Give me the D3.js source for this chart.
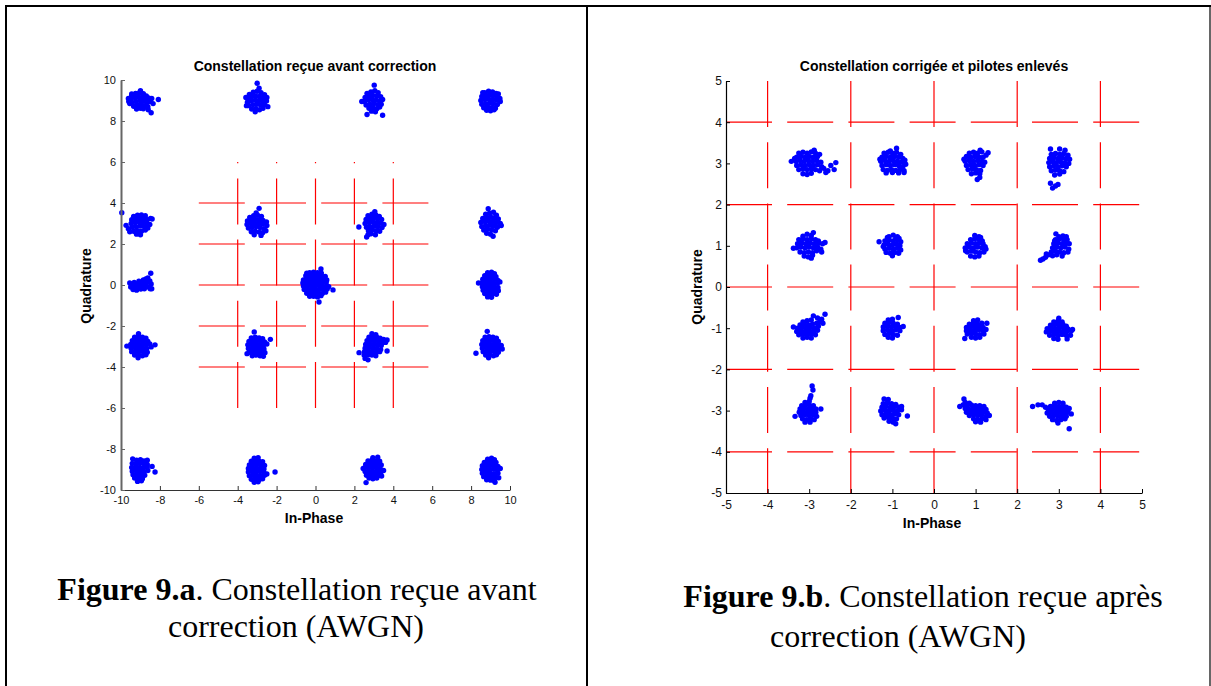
<!DOCTYPE html>
<html>
<head>
<meta charset="utf-8">
<script src="https://cdn.jsdelivr.net/npm/d3@7"></script>
<style>
  body { margin: 0; background: #fff; }
  svg { display: block; }
</style>
</head>
<body>
<svg id="fig" width="1211" height="686"></svg>
<script>
// ---- Figure text ----
const titleBefore = "Constellation reçue avant correction";
const titleAfter = "Constellation corrigée et pilotes enlevés";
const xLabel = "In-Phase";
const yLabel = "Quadrature";
const captionBefore = [["Figure 9.a", ". Constellation reçue avant"], ["", "correction (AWGN)"]];
const captionAfter = [["Figure 9.b", ". Constellation reçue après"], ["", "correction (AWGN)"]];

// ---- Axis ticks ----
const ticksBefore = [-10, -8, -6, -4, -2, 0, 2, 4, 6, 8, 10];
const ticksAfter = [-5, -4, -3, -2, -1, 0, 1, 2, 3, 4, 5];

// ---- Decision boundaries (red dashed) ----
const boundsBefore = [-4, -2, 0, 2, 4];
const boundsBeforeSpan = [-6, 6];
const boundsAfter = [-4, -2, 0, 2, 4];
const boundsAfterSpan = [-5, 5];

// ---- Received samples: symbol position + deviations (hundredths of a unit, x,y pairs) ----
const samplesBefore = [
  { s: [-9, 9], d: [-45,25,-25,35,-5,38,15,33,30,22,-50,5,-30,15,-10,18,10,15,28,8,42,12,-42,-10,-22,-5,-2,0,18,-3,35,-10,-35,-28,-15,-22,5,-20,22,-25,-20,-42,0,-38,15,-40,-55,-15,-45,32,0,48,38,-30,50,-5,58,10,65,-15,92,5,55,-60,40,-45,-62,10,-60,-5] },
  { s: [-3, 9], d: [-40,30,-20,40,0,45,20,38,38,28,-48,10,-28,20,-8,22,12,20,32,12,50,15,-50,-8,-30,0,-10,2,10,0,30,-5,48,-2,-42,-25,-22,-20,-2,-18,18,-22,38,-20,-28,-42,-8,-40,12,-45,30,-38,-10,-55,55,-30,-55,-25,0,84,10,60,-58,15] },
  { s: [3, 9], d: [-35,35,-15,42,5,48,22,38,-45,15,-25,22,-5,25,15,22,35,18,-48,-5,-28,2,-8,5,12,2,32,-2,45,5,-40,-22,-20,-18,0,-15,20,-20,38,-18,-25,-38,-5,-35,15,-40,30,-32,-12,-52,8,-55,2,75,-62,-5,-35,-68,45,-72] },
  { s: [9, 9], d: [-30,38,-10,45,10,42,28,35,-45,20,-25,25,-5,28,15,25,35,20,48,10,-50,0,-30,5,-10,8,10,5,30,2,50,-5,-45,-18,-25,-15,-5,-12,15,-15,35,-20,-35,-35,-15,-32,5,-35,25,-38,-20,-48,0,-50,18,-45,40,32,-40,38] },
  { s: [-9, 3], d: [-35,35,-15,40,5,42,25,38,-45,18,-25,22,-5,25,15,22,35,18,52,25,-48,0,-28,5,-8,8,12,5,32,0,48,-5,-42,-18,-22,-15,-2,-12,18,-15,38,-22,-35,-38,-15,-35,5,-38,25,-32,-20,-52,0,-55,-62,-25,-55,-40,-96,53,-74,-9,60,22] },
  { s: [-3, 3], d: [-38,30,-18,38,2,40,22,35,-50,12,-30,18,-10,20,10,18,30,15,48,8,-52,-5,-32,0,-12,2,8,0,28,-2,50,-10,-45,-22,-25,-18,-5,-15,15,-20,35,-25,-30,-40,-10,-38,10,-42,28,-45,-15,-55,20,-58,10,74,45,-35,-5,52] },
  { s: [3, 3], d: [-30,38,-10,45,10,42,28,35,-40,20,-20,25,0,28,20,25,40,20,-45,0,-25,5,-5,8,15,5,35,2,52,-5,-38,-18,-18,-15,2,-12,22,-15,42,-20,-28,-35,-8,-32,12,-35,30,-38,-15,-50,8,-55,-77,-17,-37,-66,-30,-55,5,58] },
  { s: [9, 3], d: [-25,45,-5,50,15,55,30,40,-40,25,-20,30,0,32,20,28,40,22,-50,5,-30,10,-10,12,10,10,30,5,50,0,-45,-15,-25,-10,-5,-8,15,-12,35,-18,55,-10,-35,-32,-15,-28,5,-30,25,-35,-20,-48,0,-52,13,-62,-12,72] },
  { s: [-9, 0], d: [-55,10,-50,-10,-42,0,-38,-22,-32,12,-28,-8,-20,-25,-18,5,-12,-12,-8,18,-2,0,2,-20,8,12,12,-5,15,25,20,-18,22,8,28,30,30,-5,35,15,38,35,42,-10,48,20,50,-18,55,5,53,57,58,-18] },
  { s: [0, 0], d: [-30,60,-10,62,10,60,30,58,-50,45,-30,45,-10,48,10,45,30,45,50,42,-62,25,-42,30,-22,28,-2,30,18,28,38,30,58,25,-65,10,-45,12,-25,12,-5,15,15,12,35,10,55,12,-62,-5,-42,-5,-22,-2,-2,-5,18,-2,38,-8,58,-5,-58,-22,-38,-22,-18,-20,2,-22,22,-20,42,-25,60,-20,-45,-40,-25,-38,-5,-40,15,-38,35,-42,52,-35,-30,-55,-10,-55,10,-58,28,-52,90,-24,18,-83,28,78,-45,58,68,-8] },
  { s: [9, 0], d: [-15,60,5,62,20,55,-30,45,-10,48,10,45,28,40,-40,28,-20,30,0,30,20,28,38,22,-45,10,-25,12,-5,12,15,10,35,8,48,15,-42,-8,-22,-5,-2,-5,18,-8,38,-12,-38,-25,-18,-22,2,-22,22,-25,40,-28,-30,-42,-10,-40,10,-42,30,-45,-15,-58,5,-60,-62,10] },
  { s: [-9, -3], d: [-10,62,-30,45,-10,48,10,45,28,40,-42,28,-22,30,-2,30,18,28,38,25,-50,10,-30,12,-10,12,10,10,30,8,48,12,-48,-8,-28,-5,-8,-5,12,-8,32,-10,55,-2,-45,-25,-25,-22,-5,-22,15,-25,35,-28,-30,-42,-10,-40,10,-45,28,-40,-12,-55,75,8,-70,2] },
  { s: [-3, -3], d: [-15,71,-30,42,-10,45,10,42,28,38,-42,25,-22,28,-2,28,18,25,38,22,-48,8,-28,10,-8,10,12,8,32,5,50,12,-45,-10,-25,-8,-5,-8,15,-10,35,-12,-40,-28,-20,-25,0,-25,20,-28,40,-30,-25,-45,-5,-42,15,-45,32,-48,68,35,-52,-35] },
  { s: [3, -3], d: [-10,62,10,58,-25,45,-5,48,15,45,32,40,50,35,68,32,-35,28,-15,30,5,28,25,25,45,20,60,20,-42,10,-22,12,-2,10,18,8,38,5,-45,-8,-25,-5,-5,-8,15,-10,35,-15,-48,-25,-28,-22,-8,-25,12,-28,30,-25,-50,-42,-30,-40,-10,-42,10,-45,-45,-58,-30,-65,-76,-30,68,-22] },
  { s: [9, -3], d: [-17,74,-28,45,-8,48,12,45,30,40,-40,28,-20,30,0,30,20,28,40,25,-45,10,-25,12,-5,12,15,10,35,8,55,5,-42,-8,-22,-5,-2,-5,18,-8,38,-10,60,-12,-38,-25,-18,-22,2,-22,22,-25,40,-28,-25,-42,-5,-40,15,-45,30,-40,-10,-55,-75,-33] },
  { s: [-9, -9], d: [-40,52,-20,45,0,48,18,42,35,45,-42,30,-22,28,-2,30,18,28,35,25,-45,10,-25,12,-5,10,15,8,35,12,-42,-8,-22,-5,-2,-8,18,-10,38,-5,-38,-25,-18,-22,2,-25,22,-28,-30,-42,-10,-40,10,-45,-15,-58,5,-55,75,-12,60,15] },
  { s: [-3, -9], d: [-15,55,5,58,-30,40,-10,42,10,40,28,38,-40,22,-20,25,0,25,20,22,38,20,-45,5,-25,8,-5,5,15,5,35,2,-45,-12,-25,-10,-5,-12,15,-10,35,-15,-40,-30,-20,-28,0,-30,20,-32,38,-28,-30,-48,-10,-45,10,-50,28,-45,-15,-62,5,-60,92,-12,50,-22] },
  { s: [3, -9], d: [-5,58,20,60,-30,42,-10,45,10,42,30,40,-42,25,-22,28,-2,28,18,25,38,22,-48,8,-28,10,-8,10,12,8,32,5,50,-5,-45,-10,-25,-8,-5,-10,15,-12,35,-15,-38,-28,-18,-25,2,-28,22,-30,40,-32,-25,-42,-5,-45,15,-42,-40,-64,-55,5] },
  { s: [9, -9], d: [-15,50,5,55,20,48,-32,35,-12,38,8,38,28,35,-42,18,-22,20,-2,20,18,18,38,15,-45,0,-25,2,-5,0,15,2,35,-2,50,5,-42,-18,-22,-15,-2,-18,18,-20,38,-18,-35,-35,-15,-32,5,-35,25,-38,42,-40,-20,-50,0,-52,20,-55,23,-62] }
];

const samplesAfter = [
  { s: [-3, 3], d: [-25,25,-15,27,-5,25,5,28,15,25,-30,15,-20,17,-10,15,0,17,10,15,20,17,-32,5,-22,7,-12,5,-2,7,8,5,18,7,28,3,-30,-5,-20,-3,-10,-5,0,-3,10,-5,20,-3,30,-8,-25,-15,-15,-13,-5,-15,5,-13,15,-15,25,-18,-15,-25,-5,-27,5,-24,35,-12,40,-22,45,-18,52,-5,60,-15,64,2,-43,5,12,32,-35,12,25,22] },
  { s: [-1, 3], d: [-20,25,-10,27,0,25,10,27,20,22,-25,15,-15,17,-5,15,5,17,15,15,25,12,-28,5,-18,7,-8,5,2,7,12,5,22,3,30,8,-25,-5,-15,-3,-5,-5,5,-3,15,-5,25,-8,32,-2,-22,-15,-12,-17,-2,-15,8,-17,18,-15,28,-18,-15,-23,0,-22,15,-23,28,-22,10,37,-5,30,-30,10] },
  { s: [1, 3], d: [-15,25,-5,27,5,25,15,28,-22,17,-12,15,-2,17,8,15,18,15,25,20,-25,5,-15,7,-5,5,5,7,15,5,22,3,-22,-5,-12,-3,-2,-5,8,-3,18,-5,-18,-15,-8,-13,2,-15,12,-17,-10,-25,0,-23,10,-25,4,-39,10,-34,11,32,30,26,-28,10] },
  { s: [3, 3], d: [-20,35,2,35,15,32,-18,22,-8,24,2,22,12,24,22,20,-22,12,-12,14,-2,12,8,14,18,12,26,10,-24,2,-14,4,-6,2,4,4,14,2,24,0,-22,-8,-12,-6,-2,-8,8,-6,18,-8,-18,-18,-8,-16,2,-18,12,-20,-10,-28,2,-26,-20,-48,-15,-60,-2,-51,-8,-55] },
  { s: [-3, 1], d: [-15,23,-5,28,5,25,-25,15,-15,17,-5,15,5,17,15,15,22,12,-28,5,-18,7,-8,5,2,7,12,5,22,7,32,5,38,8,-30,-5,-20,-3,-10,-5,0,-3,10,-5,20,-3,28,-8,-22,-15,-12,-17,-2,-15,8,-17,18,-12,-12,-25,-2,-27,8,-23,-38,-6,10,32,30,-15,5,-30] },
  { s: [-1, 1], d: [-8,22,2,26,12,22,-18,12,-8,14,2,12,12,14,20,10,-20,2,-10,4,0,2,10,4,18,0,-18,-8,-8,-6,2,-8,12,-6,20,-10,-15,-16,-5,-18,5,-16,15,-18,-32,10,-22,-2,8,18,-12,20,16,18,0,-24] },
  { s: [1, 1], d: [-2,25,8,22,-12,15,-2,17,8,15,16,12,-20,5,-10,7,0,5,10,7,18,5,-25,-5,-15,-3,-5,-5,5,-3,15,-5,25,-8,-20,-15,-10,-13,0,-15,10,-17,20,-15,-12,-25,-2,-27,8,-25,-24,-12,23,-2,12,20] },
  { s: [3, 1], d: [0,22,10,24,18,22,-8,15,2,17,12,15,20,15,-12,5,-2,7,8,5,18,7,25,5,-15,-5,-5,-3,5,-5,15,-3,24,-8,-18,-15,-8,-13,2,-15,12,-17,22,-15,-25,-22,-15,-24,-5,-22,8,-25,-32,-28,-38,-32,-44,-35,-30,-20,-10,12,-7,29] },
  { s: [-3, -1], d: [-15,15,-5,18,5,20,-22,8,-12,10,-2,8,8,10,-28,0,-18,2,-8,0,2,2,12,0,22,5,-30,-8,-20,-6,-10,-8,0,-6,10,-8,20,-5,-25,-16,-15,-14,-5,-16,5,-14,15,-16,-15,-24,-5,-22,5,-24,18,12,25,15,30,22,38,34,33,12,20,25,10,30,-38,3] },
  { s: [-1, -1], d: [-10,20,0,22,-18,12,-8,14,2,12,12,10,-22,3,-12,5,-2,3,8,5,18,2,-22,-6,-12,-4,-2,-6,8,-4,18,-6,-18,-15,-8,-13,2,-15,12,-17,-10,-22,0,-24,14,26,26,4] },
  { s: [1, -1], d: [-5,18,5,20,-15,10,-5,12,5,10,15,12,-22,2,-12,4,-2,2,8,4,18,2,-22,-6,-12,-4,-2,-6,8,-4,18,-6,25,-3,-20,-14,-10,-12,0,-14,10,-16,20,-14,-26,-25,-10,-22,0,-24,10,-22,27,12] },
  { s: [3, -1], d: [0,24,-12,15,-2,17,8,15,-20,7,-10,9,0,7,10,9,18,5,-28,-1,-18,1,-8,-1,2,1,12,-1,22,-2,-30,-9,-20,-7,-10,-9,0,-7,10,-9,20,-7,30,-6,-22,-17,-12,-15,-2,-17,8,-15,18,-17,28,-17,-12,-25,-2,-27,20,-26,33,-3] },
  { s: [-3, -3], d: [-10,20,0,22,-18,12,-8,14,2,12,10,12,-22,4,-12,6,-2,4,8,6,16,4,-24,-4,-14,-2,-4,-4,6,-2,16,-4,-20,-12,-10,-10,0,-12,10,-10,18,-14,-16,-20,-6,-22,4,-20,12,-22,-10,-28,2,-28,4,36,9,50,7,60,2,30,-34,-14,28,4] },
  { s: [-1, -3], d: [-20,28,-10,27,-22,17,-12,19,-2,17,8,15,-25,8,-15,10,-5,8,5,10,15,8,22,10,-28,-1,-18,1,-8,-1,2,1,12,-1,22,2,-25,-10,-15,-8,-5,-10,5,-8,15,-10,-20,-18,-10,-16,0,-18,10,-20,-8,-26,2,-28,36,-13,8,-32] },
  { s: [1, -3], d: [-28,28,-25,20,-15,18,-30,14,-20,12,-10,14,0,12,10,12,20,10,-25,5,-15,3,-5,5,5,3,15,5,25,3,-22,-4,-12,-2,-2,-4,8,-2,18,-4,28,-6,-15,-12,-5,-10,5,-12,15,-10,25,-14,33,-12,-5,-20,5,-22,15,-20,25,-22,0,-27,12,-28,-38,10] },
  { s: [3, -3], d: [-10,18,0,20,10,18,-20,10,-10,12,0,10,10,12,18,8,-25,2,-15,4,-5,2,5,4,15,2,25,5,-28,-6,-18,-4,-8,-6,2,-4,12,-6,22,-4,30,-8,-22,-14,-12,-12,-2,-14,8,-12,18,-14,-15,-22,-5,-24,5,-22,15,-20,-2,-30,-63,10,-50,14,-40,14,-32,8,25,-44] }
];

// ---- Drawing ----
const svg = d3.select("#fig");
const sans = "'Liberation Sans', Arial, Helvetica, sans-serif";
const serif = "'Liberation Serif', 'Times New Roman', Times, serif";

svg.append("rect").attr("width", 1211).attr("height", 686).attr("fill", "#fff");

function expand(clusters) {
  const pts = [];
  clusters.forEach(c => {
    for (let i = 0; i < c.d.length; i += 2) {
      pts.push([c.s[0] + c.d[i] / 100, c.s[1] + c.d[i + 1] / 100]);
    }
  });
  return pts;
}

function drawPanel(cfg) {
  const x = d3.scaleLinear().domain(cfg.xDomain).range(cfg.xRange);
  const y = d3.scaleLinear().domain(cfg.yDomain).range(cfg.yRange);
  const g = svg.append("g");

  // dashed decision boundaries
  const dash = "46,15.2";
  const grid = g.append("g").attr("stroke", "#ff0000").attr("stroke-width", 1.2)
    .attr("stroke-dasharray", dash).attr("fill", "none");
  cfg.bounds.forEach(v => {
    const [a, b] = cfg.vFromTop ? [cfg.span[1], cfg.span[0]] : [cfg.span[0], cfg.span[1]];
    grid.append("line").attr("x1", x(v)).attr("x2", x(v)).attr("y1", y(a)).attr("y2", y(b));
  });
  cfg.bounds.forEach(v => {
    grid.append("line").attr("x1", x(cfg.span[0])).attr("x2", x(cfg.span[1]))
      .attr("y1", y(v)).attr("y2", y(v));
  });

  // received samples
  g.append("g").attr("fill", "#0000ff")
    .selectAll("circle").data(expand(cfg.samples)).join("circle")
    .attr("cx", d => x(d[0])).attr("cy", d => y(d[1])).attr("r", 2.7);

  // axes
  const fmt = d => String(d);
  const xAxis = g.append("g").attr("transform", `translate(0,${cfg.yRange[0]})`)
    .call(d3.axisBottom(x).tickValues(cfg.ticks).tickFormat(fmt)
      .tickSizeInner(-4).tickSizeOuter(0).tickPadding(cfg.xPad));
  const yAxis = g.append("g").attr("transform", `translate(${cfg.xRange[0]},0)`)
    .call(d3.axisLeft(y).tickValues(cfg.ticks).tickFormat(fmt)
      .tickSizeInner(-4).tickSizeOuter(0).tickPadding(cfg.yPad));
  [[xAxis, cfg.xAxisColor, cfg.xAxisWidth], [yAxis, cfg.yAxisColor, cfg.yAxisWidth]].forEach(([ax, col, w]) => {
    ax.select(".domain").attr("stroke", col).attr("stroke-width", w);
    ax.selectAll(".tick line").attr("stroke", col).attr("stroke-width", 1);
    ax.selectAll(".tick text").attr("fill", "#111").attr("font-family", sans)
      .attr("font-size", cfg.tickSize);
  });

  // title and axis labels
  g.append("text").attr("x", cfg.titleX).attr("y", cfg.titleY).attr("text-anchor", "middle")
    .attr("font-family", sans).attr("font-weight", "bold").attr("font-size", 14)
    .attr("fill", "#000").text(cfg.title);
  g.append("text").attr("x", cfg.xLabelX).attr("y", cfg.xLabelY).attr("text-anchor", "middle")
    .attr("font-family", sans).attr("font-weight", "bold").attr("font-size", 14)
    .attr("fill", "#000").text(xLabel);
  g.append("text").attr("transform", `translate(${cfg.yLabelX},${cfg.yLabelY}) rotate(-90)`)
    .attr("text-anchor", "middle")
    .attr("font-family", sans).attr("font-weight", "bold").attr("font-size", 14)
    .attr("fill", "#000").text(yLabel);

  // caption
  cfg.caption.forEach((line, i) => {
    const t = svg.append("text").attr("x", cfg.capX[i]).attr("y", cfg.capY[i])
      .attr("text-anchor", "middle").attr("font-family", serif).attr("font-size", 32)
      .attr("fill", "#000");
    if (line[0]) t.append("tspan").attr("font-weight", "bold").text(line[0]);
    t.append("tspan").text(line[1]);
  });
}

drawPanel({
  xDomain: [-10, 10], xRange: [121, 510], yDomain: [-10, 10], yRange: [490, 80],
  ticks: ticksBefore, bounds: boundsBefore, span: boundsBeforeSpan, vFromTop: false,
  samples: samplesBefore, title: titleBefore, titleX: 315, titleY: 71,
  xLabelX: 314, xLabelY: 523, yLabelX: 91, yLabelY: 286,
  xPad: 6, yPad: 5, tickSize: 11,
  xAxisColor: "#333", xAxisWidth: 1.2, yAxisColor: "#666", yAxisWidth: 2,
  caption: captionBefore, capX: [297, 296], capY: [600, 637]
});

drawPanel({
  xDomain: [-5, 5], xRange: [726, 1142], yDomain: [-5, 5], yRange: [493, 81],
  ticks: ticksAfter, bounds: boundsAfter, span: boundsAfterSpan, vFromTop: true,
  samples: samplesAfter, title: titleAfter, titleX: 934, titleY: 71,
  xLabelX: 932, xLabelY: 528, yLabelX: 702, yLabelY: 287,
  xPad: 7, yPad: 4, tickSize: 12,
  xAxisColor: "#000", xAxisWidth: 1.2, yAxisColor: "#000", yAxisWidth: 1.2,
  caption: captionAfter, capX: [923, 898], capY: [607, 647]
});

// table frame around the two figures
const frame = svg.append("g").attr("stroke", "#000").attr("fill", "none");
frame.append("line").attr("x1", 5).attr("x2", 1211).attr("y1", 6).attr("y2", 6).attr("stroke-width", 2);
frame.append("line").attr("x1", 6).attr("x2", 6).attr("y1", 5).attr("y2", 686).attr("stroke-width", 2);
frame.append("line").attr("x1", 587).attr("x2", 587).attr("y1", 5).attr("y2", 686).attr("stroke-width", 2);
frame.append("line").attr("x1", 1210).attr("x2", 1210).attr("y1", 5).attr("y2", 686).attr("stroke-width", 1.2);
</script>
</body>
</html>
